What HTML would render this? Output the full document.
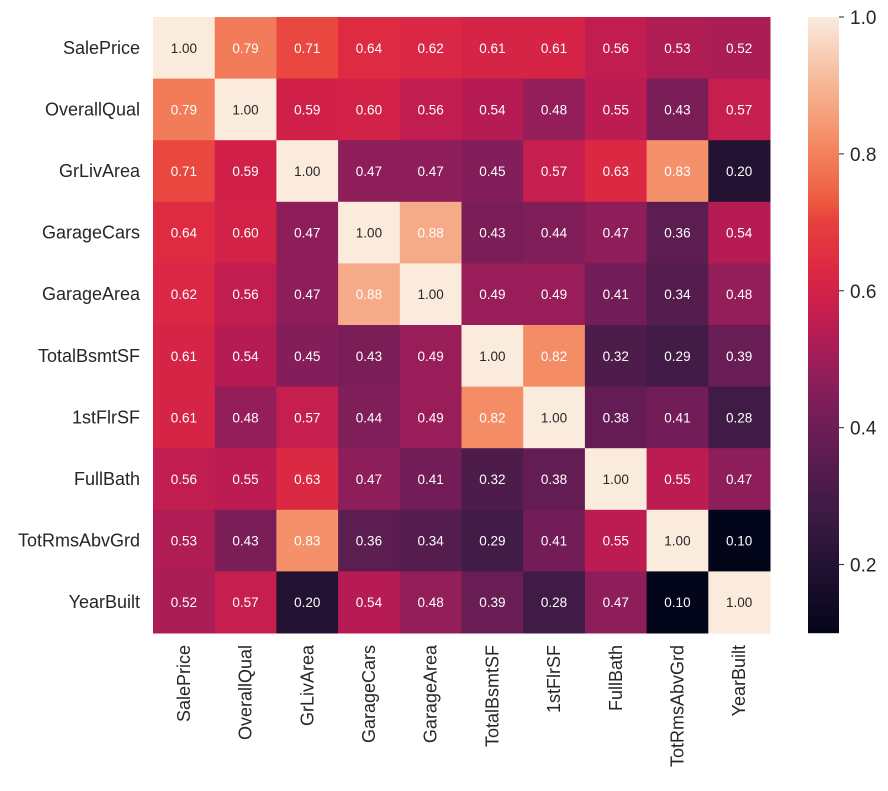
<!DOCTYPE html>
<html><head><meta charset="utf-8"><style>
body{margin:0;background:#fff;}
svg text{font-family:"Liberation Sans",sans-serif;}
</style></head><body>
<svg id="c" width="888" height="786" xmlns="http://www.w3.org/2000/svg"></svg>
<script>
const labels=["SalePrice","OverallQual","GrLivArea","GarageCars","GarageArea","TotalBsmtSF","1stFlrSF","FullBath","TotRmsAbvGrd","YearBuilt"];
const values=[
[1.00,0.79,0.71,0.64,0.62,0.61,0.61,0.56,0.53,0.52],
[0.79,1.00,0.59,0.60,0.56,0.54,0.48,0.55,0.43,0.57],
[0.71,0.59,1.00,0.47,0.47,0.45,0.57,0.63,0.83,0.20],
[0.64,0.60,0.47,1.00,0.88,0.43,0.44,0.47,0.36,0.54],
[0.62,0.56,0.47,0.88,1.00,0.49,0.49,0.41,0.34,0.48],
[0.61,0.54,0.45,0.43,0.49,1.00,0.82,0.32,0.29,0.39],
[0.61,0.48,0.57,0.44,0.49,0.82,1.00,0.38,0.41,0.28],
[0.56,0.55,0.63,0.47,0.41,0.32,0.38,1.00,0.55,0.47],
[0.53,0.43,0.83,0.36,0.34,0.29,0.41,0.55,1.00,0.10],
[0.52,0.57,0.20,0.54,0.48,0.39,0.28,0.47,0.10,1.00]];
const cbTicks=[0.2,0.4,0.6,0.8,1.0];
const vmin=0.1,vmax=1.0;
const stops=[[0,[3,5,26]],[0.1,[31,17,48]],[0.2,[63,27,69]],[0.3,[96,29,83]],[0.4,[136,30,91]],[0.5,[188,28,82]],[0.55,[210,33,72]],[0.6,[223,43,66]],[0.67,[231,64,62]],[0.7,[237,90,64]],[0.8,[244,140,101]],[0.9,[246,187,154]],[1,[250,235,221]]];
function cmap(v){let t=Math.max(0,Math.min(1,(v-vmin)/(vmax-vmin)));
for(let i=1;i<stops.length;i++){if(t<=stops[i][0]){const a=stops[i-1],b=stops[i];const f=(t-a[0])/(b[0]-a[0]);
return "rgb("+a[1].map((c,k)=>Math.round(c+(b[1][k]-c)*f)).join(",")+")";}}return "rgb(250,235,221)";}
const X0=153,Y0=17,W=617,H=616,n=labels.length,cw=W/n,ch=H/n;
const svg=document.getElementById('c');const NS="http://www.w3.org/2000/svg";
function el(tag,attrs,txt){const e=document.createElementNS(NS,tag);for(const k in attrs)e.setAttribute(k,attrs[k]);if(txt!==undefined)e.textContent=txt;svg.appendChild(e);return e;}
values.forEach((row,i)=>row.forEach((v,j)=>{
const r=el('rect',{x:X0+j*cw,y:Y0+i*ch,width:cw+0.5,height:ch+0.5,fill:cmap(v)});


const t=el('text',{x:X0+(j+0.5)*cw,y:Y0+(i+0.5)*ch+5,'text-anchor':'middle','font-size':13.5,fill:v>0.95?'#262626':'#fff'},v.toFixed(2));


}));
labels.forEach((l,i)=>{
const t=el('text',{x:140,y:Y0+(i+0.5)*ch+6,'text-anchor':'end','font-size':18,fill:'#262626'},l);


const x=X0+(i+0.5)*cw+6;
const u=el('text',{x:x,y:645,'text-anchor':'end','font-size':18,fill:'#262626',transform:'rotate(-90 '+x+' 645)'},l);


});
const CX=808,CW=31,CY0=17,CH=616;
const cbY=v=>CY0+(vmax-v)/(vmax-vmin)*CH;
for(let k=0;k<CH;k++){const v=vmax-(k+0.5)/CH*(vmax-vmin);
const r=el('rect',{x:CX,y:CY0+k,width:CW,height:1.2,fill:cmap(v)});

}
cbTicks.forEach(v=>{const y=cbY(v);
const l=el('line',{x1:CX+CW,x2:CX+CW+5,y1:y,y2:y,stroke:'#262626','stroke-width':1});


const t=el('text',{x:850,y:y+7,'font-size':19,fill:'#262626'},v.toFixed(1));

});
</script>
</body></html>
